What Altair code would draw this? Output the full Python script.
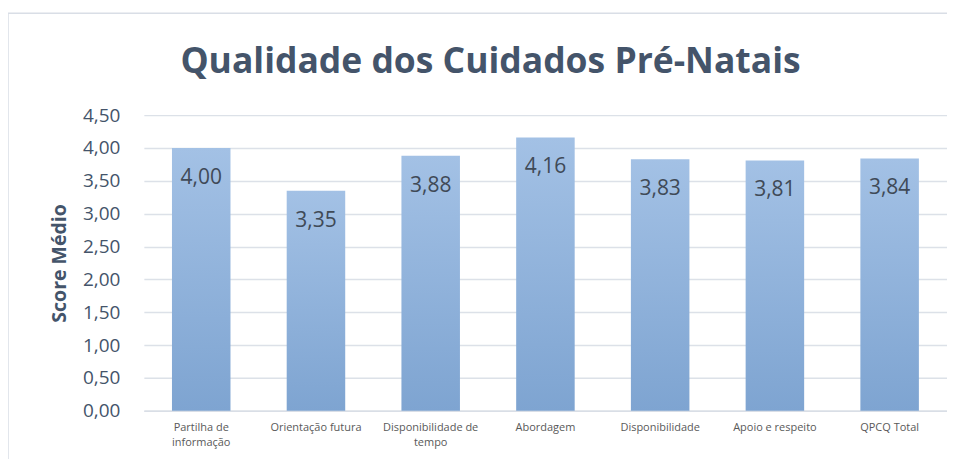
import altair as alt
import pandas as pd

categories = ["Partilha de informação", "Orientação futura", "Disponibilidade de tempo",
              "Abordagem", "Disponibilidade", "Apoio e respeito", "QPCQ Total"]
scores = [4.00, 3.35, 3.88, 4.16, 3.83, 3.81, 3.84]
label_lines = [["Partilha de", "informação"], ["Orientação futura"], ["Disponibilidade de", "tempo"],
               ["Abordagem"], ["Disponibilidade"], ["Apoio e respeito"], ["QPCQ Total"]]
y_ticks = [0.0, 0.5, 1.0, 1.5, 2.0, 2.5, 3.0, 3.5, 4.0, 4.5]
chart_title = "Qualidade dos Cuidados Pré-Natais"

df = pd.DataFrame({"categoria": categories, "score": scores})

# label expression for wrapped x labels
parts = []
for cat, lines in zip(categories, label_lines):
    arr = "[" + ",".join("'" + l + "'" for l in lines) + "]"
    parts.append(f"datum.value == '{cat}' ? {arr} : ")
x_label_expr = "".join(parts) + "datum.value"

TXT = "#44546A"
FONT = "Open Sans"

x_enc = alt.X("categoria:N", sort=categories, title=None,
              scale=alt.Scale(paddingInner=0.49, paddingOuter=0.245),
              axis=alt.Axis(labelAngle=0, labelExpr=x_label_expr, labelFontSize=11,
                            labelColor="#595959", labelFont=FONT, labelPadding=11,
                            labelLineHeight=15, ticks=False, domainColor="#D9DEE6",
                            domainWidth=1.5, labelBaseline="top", labelOverlap=False))
y_enc = alt.Y("score:Q", title="Score Médio",
              scale=alt.Scale(domain=[0, 4.5], nice=False),
              axis=alt.Axis(values=y_ticks, labelExpr="replace(format(datum.value, '.2f'), '.', ',')",
                            labelFontSize=19, labelColor=TXT, labelFont=FONT, labelPadding=24,
                            labelOverlap=False, ticks=False, domain=False,
                            gridColor="#DCE1E8", gridWidth=1.5,
                            titleFontSize=19.5, titleFont=FONT, titleFontWeight="bold",
                            titleColor=TXT, titlePadding=13))

bars = alt.Chart(df).mark_bar(
    color=alt.Gradient(gradient="linear",
                       stops=[alt.GradientStop(color="#A3C1E5", offset=0),
                              alt.GradientStop(color="#7EA4D1", offset=1)],
                       x1=0, x2=0, y1=0, y2=1)
).encode(x=x_enc, y=y_enc)

labels = alt.Chart(df).transform_calculate(
    txt="replace(format(datum.score, '.2f'), '.', ',')"
).mark_text(dy=30, fontSize=21, color="#404A57", font=FONT).encode(
    x=x_enc,
    y=y_enc,
    text="txt:N",
)

frame = alt.Chart(pd.DataFrame({"f": [0]})).mark_rect(
    fill=None, stroke="#D9DEE6", strokeWidth=1.5, clip=False
).encode(x=alt.value(-136), x2=alt.value(1000), y=alt.value(-102), y2=alt.value(600))

title = alt.Chart(pd.DataFrame({"t": [chart_title]})).mark_text(
    fontSize=35.5, font=FONT, fontWeight="bold", color=TXT, align="center",
    baseline="alphabetic", clip=False
).encode(x=alt.value(347), y=alt.value(-42), text="t:N")

chart = alt.layer(frame, bars, labels, title).properties(
    width=804, height=296,
    padding={"left": 136, "top": 107, "right": 0, "bottom": 48},
    autosize=alt.AutoSizeParams(type="none"),
).configure_view(stroke=None)

chart.save("out.html", embed_options={"renderer": "svg", "actions": False})
